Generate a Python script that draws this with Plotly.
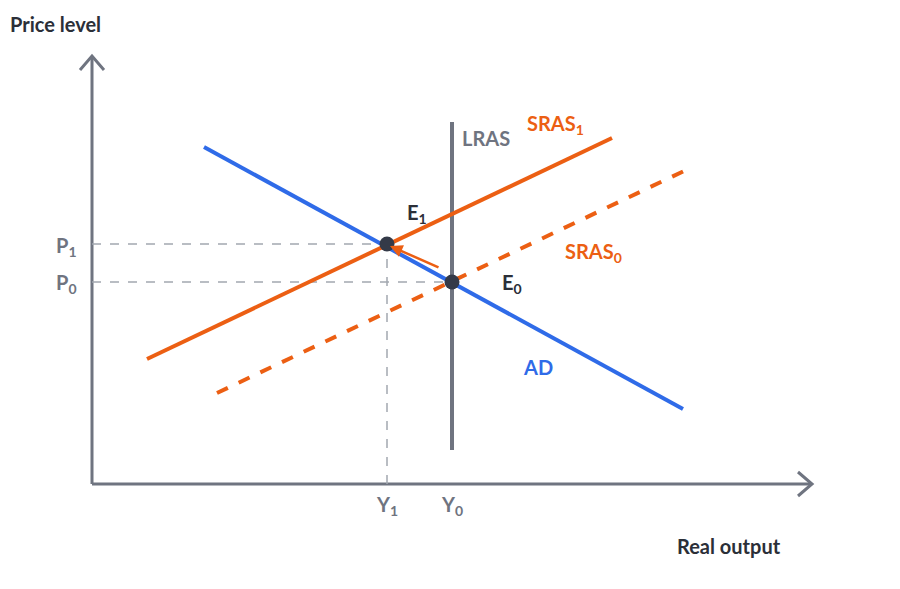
import plotly.graph_objects as go

# ---- data (economic diagram, units measured from the axis origin) ----
ad_x = [112, 591]
ad_y = [337, 75]
sras1_x = [55, 520]
sras1_y = [125, 346]
sras0_x = [125, 592]
sras0_y = [91, 313]
lras_x = [360, 360]
lras_y = [34, 362]
eq_x = [295, 360]      # E1, E0 output
eq_y = [240, 202]      # P1, P0 price
eq_names = ["E<sub>1</sub>", "E<sub>0</sub>"]
p_labels = ["P<sub>1</sub>", "P<sub>0</sub>"]
y_labels = ["Y<sub>1</sub>", "Y<sub>0</sub>"]
x_axis_len = 720
y_axis_len = 428

ORANGE = "#ec5f13"
BLUE = "#2f6be8"
GRAY = "#6f7480"
DASH = "#a3a8b0"
DARK = "#343a48"
FONT = "Lato"

fig = go.Figure()

def line(x, y, color, width, dash="solid"):
    fig.add_trace(go.Scatter(x=x, y=y, mode="lines", hoverinfo="skip",
                             line=dict(color=color, width=width, dash=dash)))

# axes
line([0, 0], [0, y_axis_len], GRAY, 3)
line([0, x_axis_len], [0, 0], GRAY, 3)
line([-12, 0, 12], [y_axis_len - 14, y_axis_len, y_axis_len - 14], GRAY, 3)
line([x_axis_len - 14, x_axis_len, x_axis_len - 14], [12, 0, -12], GRAY, 3)

# guide lines
line([0, eq_x[0]], [eq_y[0], eq_y[0]], DASH, 1.5, "dash")
line([eq_x[0], eq_x[0]], [0, eq_y[0]], DASH, 1.5, "dash")
line([0, eq_x[1]], [eq_y[1], eq_y[1]], DASH, 1.5, "dash")

# curves
line(lras_x, lras_y, GRAY, 4)
line(sras0_x, sras0_y, ORANGE, 4, "dash")
line(ad_x, ad_y, BLUE, 4)
line(sras1_x, sras1_y, ORANGE, 4)

# movement arrow from E0 toward E1
fig.add_annotation(x=eq_x[0] + 3, y=eq_y[0] - 2, ax=eq_x[1] - 12, ay=eq_y[1] + 14,
                   xref="x", yref="y", axref="x", ayref="y", text="",
                   showarrow=True, arrowhead=2, arrowsize=1, arrowwidth=2.5,
                   arrowcolor=ORANGE)

# equilibrium points
fig.add_trace(go.Scatter(x=eq_x, y=eq_y, mode="markers", hoverinfo="skip",
                         marker=dict(color=DARK, size=15)))

def label(x, y, text, color, size=20, xanchor="center", xref="x"):
    fig.add_annotation(x=x, y=y, xref=xref, yref="y", text="<b>" + text + "</b>",
                       showarrow=False, xanchor=xanchor, yanchor="middle",
                       font=dict(family=FONT, size=size, color=color))

label(eq_x[0] + 30, eq_y[0] + 31, eq_names[0], "#2b2f38")
label(eq_x[1] + 60, eq_y[1] - 1, eq_names[1], "#2b2f38")
label(-26, eq_y[0] - 2, p_labels[0], GRAY)
label(-26, eq_y[1] - 1, p_labels[1], GRAY)
label(eq_x[0], -21, y_labels[0], GRAY)
label(eq_x[1], -21, y_labels[1], GRAY)
label(368, 346, "LRAS", GRAY, xanchor="left")
label(433, 360, "SRAS<sub>1</sub>", ORANGE, xanchor="left")
label(471, 232, "SRAS<sub>0</sub>", ORANGE, xanchor="left")
label(429, 117, "AD", BLUE, xanchor="left")
label(0, 460, "Price level", "#2b2f38", size=20, xanchor="left", xref="paper")
label(583, -62, "Real output", "#2b2f38", size=20, xanchor="left")

# page body has an 8px margin, so ranges are offset by 8 units
fig.update_layout(
    width=900, height=589, showlegend=False,
    margin=dict(l=0, r=0, t=0, b=0),
    paper_bgcolor="white", plot_bgcolor="white",
    xaxis=dict(range=[-84, 816], visible=False, fixedrange=True),
    yaxis=dict(range=[-113, 476], visible=False, fixedrange=True),
)
fig.write_html("out.html")
